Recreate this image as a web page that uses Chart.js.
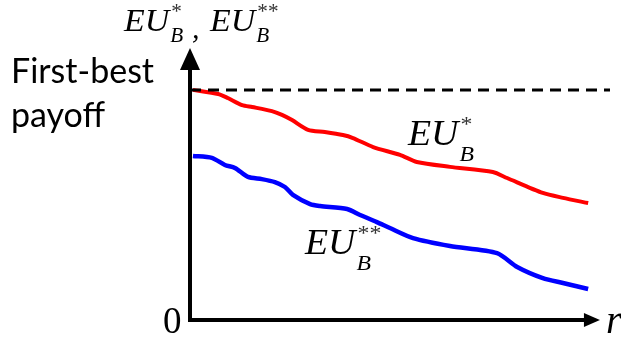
<!DOCTYPE html>
<html>
<head>
<meta charset="utf-8">
<script src="https://cdn.jsdelivr.net/npm/chart.js@4/dist/chart.umd.min.js"></script>
<style>
  html, body { margin: 0; padding: 0; background: #fff; }
  #wrap { width: 621px; height: 341px; position: relative; }
</style>
</head>
<body>
<div id="wrap"><canvas id="chart"></canvas></div>
<script>
// r on a 0..100 scale, payoff on a 0..100 scale
const rRed = [0.7, 6.7, 9.0, 12.4, 14.8, 19.5, 21.9, 24.3, 28.1, 32.1, 36.4, 38.8, 43.6, 50.0, 54.0, 61.9, 72.1, 75.5, 84.0, 88.8, 94.8];
const euStar = [84.6, 83.1, 81.6, 79.0, 78.3, 76.8, 75.4, 73.5, 69.9, 69.1, 68.0, 66.9, 63.6, 60.7, 58.1, 56.3, 54.4, 52.2, 46.7, 44.9, 43.0];

const rBlue = [0.7, 5.2, 8.3, 10.7, 13.8, 17.1, 20.2, 22.6, 24.5, 28.6, 31.0, 37.4, 40.5, 44.5, 47.6, 53.1, 61.9, 73.1, 77.9, 84.0, 88.8, 94.8];
const euStarStar = [60.3, 59.6, 57.0, 55.9, 52.6, 51.8, 50.7, 48.9, 46.0, 42.6, 41.9, 40.8, 38.6, 36.0, 33.8, 30.1, 27.2, 24.6, 19.5, 15.4, 13.6, 11.4];

const firstBest = 84.6;
const rRange = [0, 100];
const xAxisEnd = 97.6;
const yAxisEnd = 100;

function pts(xs, ys) {
  return xs.map((x, i) => ({ x: x, y: ys[i] }));
}

// EU with a superscript star(s) and subscript B, stretched a bit wide like the original
function mathLabel(ctx, x, y, size, sup, subDrop, sx) {
  ctx.save();
  ctx.translate(x, y);
  ctx.scale(sx, 1);
  ctx.font = "italic " + size + "px 'Liberation Serif'";
  ctx.fillStyle = "#000";
  ctx.textBaseline = "alphabetic";
  ctx.fillText("EU", 0, 0);
  let w = ctx.measureText("EU").width;
  let small = Math.round(size * 0.62);
  ctx.font = "italic " + small + "px 'Liberation Serif'";
  ctx.fillText("B", w + 1, subDrop);
  ctx.font = small + "px 'Liberation Serif'";
  ctx.fillStyle = "#333";
  ctx.fillText(sup, w + 2, -size * 0.4);
  ctx.restore();
}

const axesPlugin = {
  id: "axesPlugin",
  afterDatasetsDraw(chart) {
    const ctx = chart.ctx;
    const xs = chart.scales.x, ys = chart.scales.y;
    const x0 = xs.getPixelForValue(0), y0 = ys.getPixelForValue(0);
    const xt = xs.getPixelForValue(xAxisEnd), yt = ys.getPixelForValue(yAxisEnd);
    ctx.save();
    ctx.strokeStyle = "#000";
    ctx.fillStyle = "#000";
    ctx.lineWidth = 4;
    ctx.beginPath();
    ctx.moveTo(x0, y0 + 2);
    ctx.lineTo(x0, yt + 20);
    ctx.moveTo(x0 - 2, y0);
    ctx.lineTo(xt - 14, y0);
    ctx.stroke();
    // arrow heads
    ctx.beginPath();
    ctx.moveTo(x0, yt);
    ctx.lineTo(x0 - 10, yt + 22);
    ctx.lineTo(x0 + 10, yt + 22);
    ctx.closePath();
    ctx.fill();
    ctx.beginPath();
    ctx.moveTo(xt, y0);
    ctx.lineTo(xt - 16, y0 - 7);
    ctx.lineTo(xt - 16, y0 + 7);
    ctx.closePath();
    ctx.fill();

    // texts
    ctx.font = "37px 'Liberation Serif'";
    ctx.textBaseline = "alphabetic";
    ctx.fillText("0", 163, 333);
    ctx.font = "italic 40px 'Liberation Serif'";
    ctx.fillText("r", 606, 333);

    ctx.font = "34px Lato";
    ctx.fillText("First-best", 11, 83);
    ctx.fillText("payoff", 11, 127);

    mathLabel(ctx, 124, 31, 32, "*", 11, 1.06);
    ctx.font = "italic 30px 'Liberation Serif'";
    ctx.fillStyle = "#000";
    ctx.fillText(",", 192, 38);
    mathLabel(ctx, 210, 31, 32, "**", 11, 1.06);

    mathLabel(ctx, 408, 145, 35, "*", 16, 1.08);
    mathLabel(ctx, 305, 254, 35, "**", 16, 1.08);
    ctx.restore();
  }
};

new Chart(document.getElementById("chart"), {
  type: "scatter",
  data: {
    datasets: [
      {
        data: [{ x: rRange[0], y: firstBest }, { x: rRange[1], y: firstBest }],
        showLine: true,
        borderColor: "#000",
        borderWidth: 3,
        borderDash: [11, 7],
        pointRadius: 0
      },
      {
        data: pts(rRed, euStar),
        showLine: true,
        borderColor: "#ff0000",
        borderWidth: 4,
        tension: 0.25,
        pointRadius: 0
      },
      {
        data: pts(rBlue, euStarStar),
        showLine: true,
        borderColor: "#0000ff",
        borderWidth: 4.5,
        tension: 0.25,
        pointRadius: 0
      }
    ]
  },
  options: {
    responsive: true,
    maintainAspectRatio: false,
    animation: false,
    layout: { padding: { left: 190, right: 11, top: 48, bottom: 21 } },
    plugins: { legend: { display: false }, tooltip: { enabled: false } },
    scales: {
      x: { type: "linear", min: rRange[0], max: rRange[1], display: false },
      y: { type: "linear", min: 0, max: yAxisEnd, display: false }
    }
  },
  plugins: [axesPlugin]
});
</script>
</body>
</html>
